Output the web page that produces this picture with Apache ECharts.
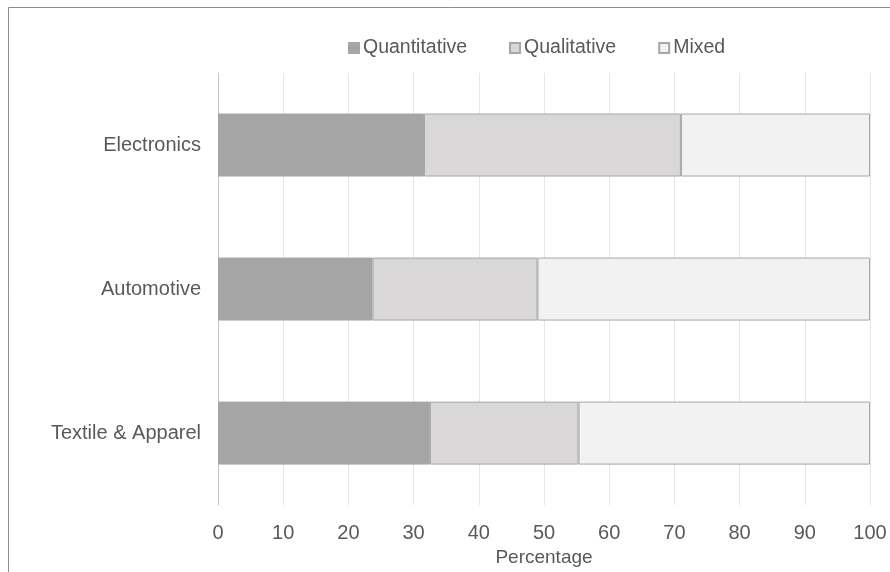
<!DOCTYPE html>
<html>
<head>
<meta charset="utf-8">
<script src="https://cdn.jsdelivr.net/npm/echarts@6/dist/echarts.min.js"></script>
<style>
  html, body { margin: 0; padding: 0; background: #ffffff; }
  #chart { width: 890px; height: 572px; }
</style>
</head>
<body>
<div id="chart"></div>
<script>
// Research approach shares by industry (percent of studies)
const industries = ['Electronics', 'Automotive', 'Textile & Apparel'];
const quantitative = [31.6, 23.7, 32.5];
const qualitative = [39.4, 25.3, 22.8];
const mixed = [29.0, 51.0, 44.7];
const xTicks = [0, 10, 20, 30, 40, 50, 60, 70, 80, 90, 100];

const FONT = '"Liberation Sans", Arial, sans-serif';
const TEXT = '#595959';
const EDGE = '#a6a6a6';

const chart = echarts.init(document.getElementById('chart'), null, { renderer: 'canvas' });

function barSeries(name, values, fill) {
  return {
    name: name,
    type: 'bar',
    stack: 'share',
    data: values,
    barWidth: 63,
    itemStyle: { color: fill, borderColor: EDGE, borderWidth: 1 },
    emphasis: { disabled: true }
  };
}

chart.setOption({
  animation: false,
  backgroundColor: '#ffffff',
  textStyle: { fontFamily: FONT, color: TEXT },
  graphic: [{
    type: 'rect',
    shape: { x: 8.5, y: 7.5, width: 900, height: 600 },
    style: { fill: 'none', stroke: '#8c8c8c', lineWidth: 1 },
    silent: true
  }],
  legend: {
    top: 38,
    left: 348,
    padding: 0,
    itemWidth: 10,
    itemHeight: 10,
    itemGap: 42,
    icon: 'rect',
    textStyle: { fontFamily: FONT, fontSize: 19.5, color: TEXT, padding: [0, 0, 0, -1] },
    data: ['Quantitative', 'Qualitative', 'Mixed']
  },
  grid: { left: 218, right: 20, top: 73, bottom: 63, containLabel: false },
  xAxis: {
    type: 'value',
    min: 0,
    max: 100,
    interval: 10,
    name: 'Percentage',
    nameLocation: 'middle',
    nameGap: 31,
    nameTextStyle: { fontFamily: FONT, fontSize: 19, color: TEXT },
    axisLine: { show: false },
    axisTick: { show: false },
    axisLabel: {
      fontFamily: FONT, fontSize: 20, color: TEXT, margin: 18,
      formatter: function (v) { return xTicks.indexOf(v) >= 0 ? String(v) : ''; }
    },
    splitLine: { show: true, lineStyle: { color: '#e6e6e6', width: 1 } }
  },
  yAxis: {
    type: 'category',
    data: industries,
    inverse: true,
    axisLine: { show: true, lineStyle: { color: '#c4c4c4', width: 1 } },
    axisTick: { show: false },
    axisLabel: { fontFamily: FONT, fontSize: 20, color: TEXT, margin: 17 },
    splitLine: { show: false }
  },
  series: [
    barSeries('Quantitative', quantitative, '#a5a5a5'),
    barSeries('Qualitative', qualitative, '#d9d7d8'),
    barSeries('Mixed', mixed, '#f2f2f2')
  ]
});
</script>
</body>
</html>
